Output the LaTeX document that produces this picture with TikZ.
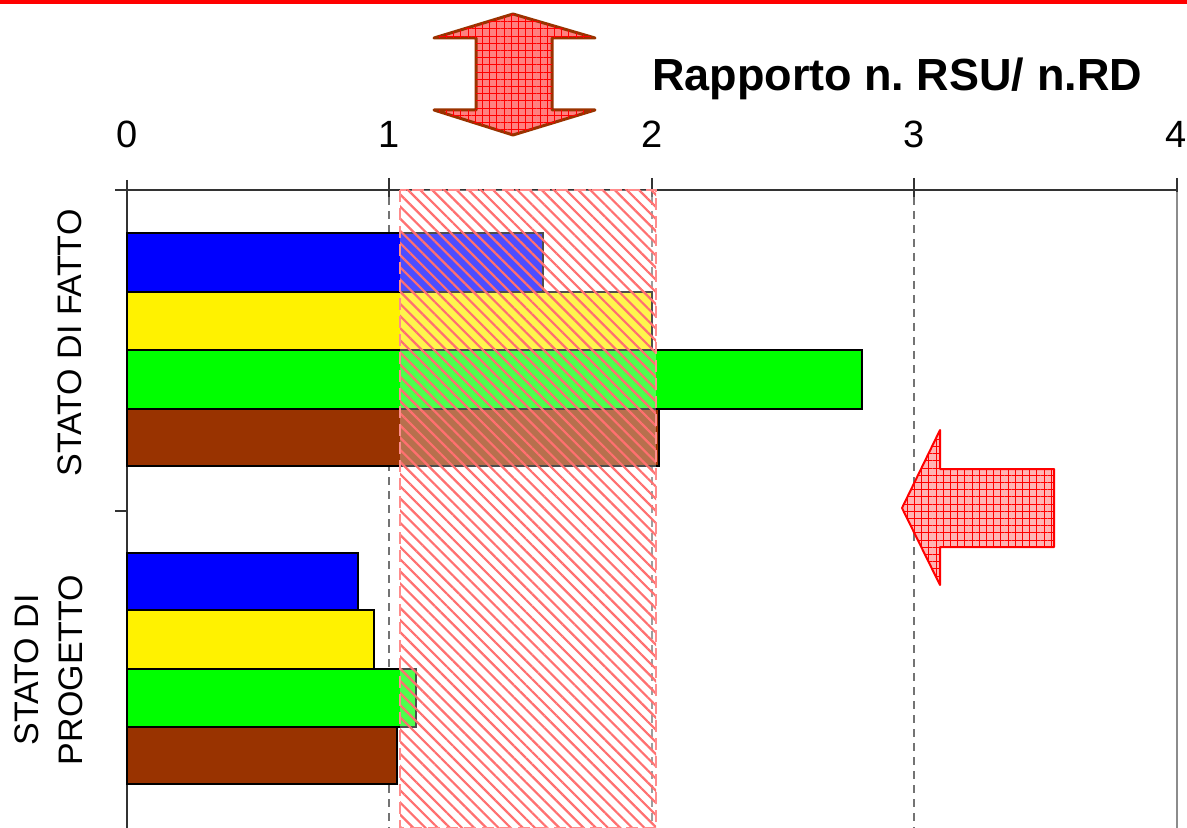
\documentclass[tikz,border=0pt]{standalone}
\usepackage{fontspec}
\setmainfont{Liberation Sans}
\usetikzlibrary{patterns.meta}
\definecolor{brownbar}{HTML}{993300}
\definecolor{arrowpink}{HTML}{FF8080}
\definecolor{arrowpinklight}{HTML}{FFB4B4}
\definecolor{hatchpink}{HTML}{FF7070}
\frenchspacing
\begin{document}
\begin{tikzpicture}[x=0.5pt,y=-0.5pt,
  bar/.style={draw=black,line width=1pt},
  gridline/.style={draw=black!55,line width=0.6pt,dash pattern=on 4pt off 3pt},
  axisline/.style={draw=black!80,line width=0.8pt},
  ticklabel/.style={font=\fontsize{19}{22}\selectfont,inner sep=0pt},
  grouplabel/.style={font=\fontsize{17}{22}\selectfont,rotate=90,align=center,inner sep=0pt},
  bigarrow/.style={line join=round,postaction={pattern={Hatch[angle=0,distance=3.6pt,line width=0.4pt]},pattern color=red}}]
\useasboundingbox (0,0) rectangle (1187,828);
% top red rule
\fill[red] (0,0) rectangle (1187,4);
% grid lines
\foreach \gx in {389,652,914}{
  \draw[gridline] (\gx,197) -- (\gx,828);
  \draw[axisline] (\gx,178) -- (\gx,197);
}
\draw[draw=black!45,line width=1pt] (1177,190) -- (1177,828);
\draw[axisline] (1177,178) -- (1177,192);
% axes
\draw[axisline] (115,190) -- (1177,190);
\draw[axisline] (127,180) -- (127,828);
\draw[axisline] (115,511) -- (127,511);
% tick labels
\node[ticklabel] (t0) at (127,134) {0};
\node[ticklabel] (t1) at (389,134) {1};
\node[ticklabel] (t2) at (652,134) {2};
\node[ticklabel] (t3) at (914,134) {3};
\node[ticklabel] (t4) at (1176,134) {4};
% bars: stato di fatto
\draw[bar,fill=blue] (127,233) rectangle (543,292);
\draw[bar,fill=yellow] (127,292) rectangle (652,350);
\draw[bar,fill=green] (127,350) rectangle (862,409);
\draw[bar,fill=brownbar] (127,409) rectangle (659,466);
% bars: stato di progetto
\draw[bar,fill=blue] (127,553) rectangle (358,610);
\draw[bar,fill=yellow] (127,610) rectangle (374,669);
\draw[bar,fill=green] (127,669) rectangle (416,727);
\draw[bar,fill=brownbar] (127,727) rectangle (397,784);
% hatched target band
\fill[white,fill opacity=0.3] (400,190) rectangle (656,828);
\fill[pattern={Lines[angle=-45,distance=4.3pt,line width=1.1pt]},pattern color=hatchpink] (400,190) rectangle (656,828);
\draw[draw=red!45,line width=1.3pt,dash pattern=on 6pt off 3pt] (400,190) rectangle (656,828);
% group labels
\node[grouplabel] (sdf) at (70,343) {STATO DI FATTO};
\node[grouplabel] (sdp) at (49,670) {STATO DI\\PROGETTO};
% title
\node[font=\bfseries\fontsize{22.5}{26}\selectfont,inner sep=0pt] (title) at (897,79) {Rapporto n. RSU/ n.RD};
% double vertical arrow
\draw[bigarrow,draw=brownbar,line width=1.5pt,fill=arrowpink]
  (513,14) -- (595,38) -- (552,38) -- (552,110) -- (595,110) -- (513,135)
  -- (434,110) -- (476,110) -- (476,38) -- (434,38) -- cycle;
% left arrow
\draw[bigarrow,draw=red,line width=1pt,fill=arrowpinklight]
  (902,508) -- (940,430) -- (940,469) -- (1054,469) -- (1054,547)
  -- (940,547) -- (940,585) -- cycle;
\end{tikzpicture}
\end{document}
